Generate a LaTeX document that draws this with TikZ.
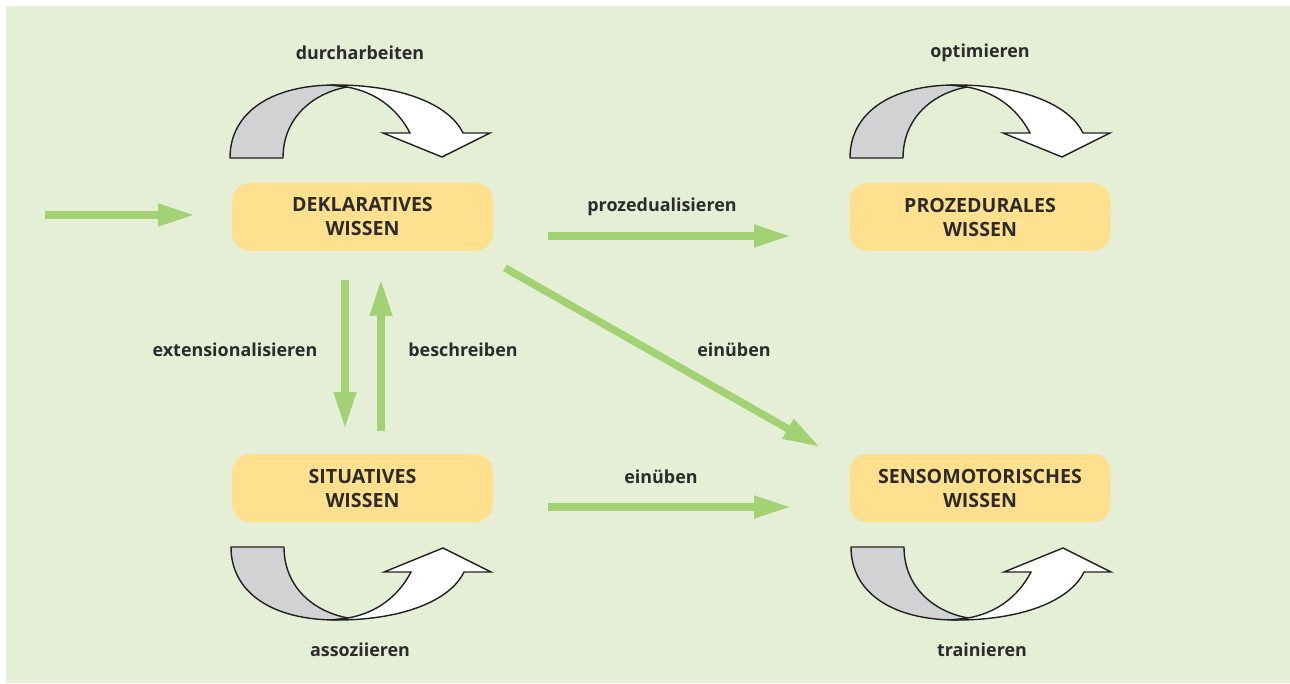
\documentclass[tikz,border=0pt]{standalone}
\usepackage{fontspec}
\setmainfont{Open Sans}
\usetikzlibrary{arrows.meta}
\definecolor{bg}{HTML}{E5EFD6}
\definecolor{boxc}{HTML}{FFE08F}
\definecolor{grn}{HTML}{A2D274}
\definecolor{gry}{HTML}{D1D2D4}
\definecolor{txt}{HTML}{2B2B2B}
\definecolor{ink}{HTML}{231F20}
\tikzset{
  box/.style={fill=boxc, rounded corners=18pt, minimum width=261pt, minimum height=68pt,
    align=center, font=\bfseries\fontsize{19.6}{24}\selectfont, text=txt, inner sep=0pt},
  lab/.style={font=\bfseries\fontsize{17.9}{21}\selectfont, text=txt, inner sep=0pt},
  garrow/.style={draw=grn, line width=7.5pt, -{Triangle[length=37pt,width=21pt]}},
  backband/.style={fill=gry, draw=ink, line width=1.4pt, line join=round},
  frontband/.style={fill=white, draw=ink, line width=1.4pt, line join=miter},
}
\newcommand\myturn{%
    \path[backband] (230,158) .. controls (230,112) and (272,85) .. (335,85)
      -- (347,87) .. controls (310,94) and (283,120) .. (283,158) -- cycle;
    \path[frontband] (330,85) .. controls (400,84) and (449,104) .. (463,133)
      -- (490,133) -- (442,157) -- (383,133) -- (410,133)
      .. controls (397,108) and (375,92) .. (347,87) -- cycle;
}
\begin{document}
\begin{tikzpicture}[x=1pt,y=-1pt]
\useasboundingbox (0,0) rectangle (1290,684);
\fill[bg] (6,6) rectangle (1290,683);

% boxes
\node[box] (dek) at (362.5,217) {DEKLARATIVES\\WISSEN};
\node[box] (sit) at (362.5,488) {SITUATIVES\\WISSEN};
\node[box] (pro) at (980,217) {PROZEDURALES\\WISSEN};
\node[box] (sen) at (980,488) {SENSOMOTORISCHES\\WISSEN};

% curved arrows
\begin{scope}\myturn\end{scope}
\begin{scope}[shift={(620,0)}]\myturn\end{scope}
\begin{scope}[shift={(1,705)}, yscale=-1]\myturn\end{scope}
\begin{scope}[shift={(621,705)}, yscale=-1]\myturn\end{scope}

% arrow end points
\coordinate (in0) at (45,215);
\coordinate (in1) at (195,215);
\coordinate (p0) at (548,236);
\coordinate (p1) at (791,236);
\coordinate (d0) at (505,268);
\coordinate (d1) at (820,447);
\coordinate (e0) at (548,507);
\coordinate (e1) at (791,507);
\coordinate (v0) at (345,280);
\coordinate (v1) at (345,429);
\coordinate (u0) at (381,431);
\coordinate (u1) at (381,279);

\draw[garrow] (in0) -- (in1);
\draw[garrow] (p0) -- (p1);
\draw[garrow] (d0) -- (d1);
\draw[garrow] (e0) -- (e1);
\draw[garrow] (v0) -- (v1);
\draw[garrow] (u0) -- (u1);

% labels
\node[lab] (l1) at (360,53) {durcharbeiten};
\node[lab] (l2) at (980,53) {optimieren};
\node[lab] (l3) at (662,207) {prozedualisieren};
\node[lab] (l4) at (734,350) {einüben};
\node[lab] (l5) at (661,477) {einüben};
\node[lab] (l6) at (235,350) {extensionalisieren};
\node[lab] (l7) at (463,350) {beschreiben};
\node[lab] (l8) at (360,650) {assoziieren};
\node[lab] (l9) at (982,650) {trainieren};
\end{tikzpicture}
\end{document}
